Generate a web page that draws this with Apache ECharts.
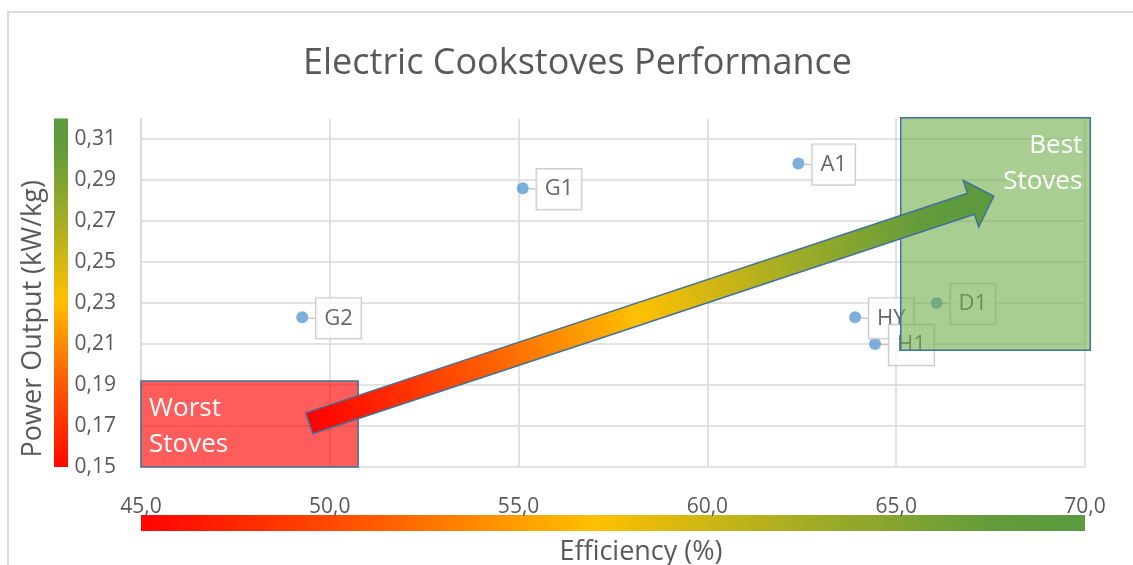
<!DOCTYPE html>
<html>
<head>
<meta charset="utf-8">
<script src="https://cdn.jsdelivr.net/npm/echarts@6/dist/echarts.min.js"></script>
<style>
  html, body { margin: 0; padding: 0; background: #fff; overflow: hidden; }
  #frame { position: absolute; left: 7px; top: 11px; width: 2000px; height: 2000px; border: 2px solid #dcdcdc; box-sizing: border-box; }
  #chart { position: absolute; left: 0; top: 0; width: 1133px; height: 565px; }
</style>
</head>
<body>
<div id="frame"></div>
<div id="chart"></div>
<script>
// ---- data ----
const categories = ['G2', 'G1', 'A1', 'HY', 'H1', 'D1'];
const efficiency = [49.27, 55.11, 62.41, 63.91, 64.44, 66.07];
const powerOutput = [0.223, 0.286, 0.298, 0.223, 0.210, 0.230];
const xTicks = [45, 50, 55, 60, 65, 70];
const yTicks = [0.15, 0.17, 0.19, 0.21, 0.23, 0.25, 0.27, 0.29, 0.31];
const zoneNames = ['Worst\nStoves', 'Best\nStoves'];
const zoneX0 = [45, 65.12];
const zoneX1 = [50.75, 70.14];
const zoneY0 = [0.15, 0.207];
const zoneY1 = [0.192, 0.3204];
const arrowFrom = [49.455, 0.1713];
const arrowTo = [67.585, 0.2821];

const FONT = '"Open Sans", "Noto Sans", sans-serif';
const GREY = '#595959';
const gradStops = [
  { offset: 0, color: '#ff0000' },
  { offset: 0.25, color: '#ff5a00' },
  { offset: 0.48, color: '#ffc000' },
  { offset: 0.7, color: '#a3ad25' },
  { offset: 0.9, color: '#619b3c' },
  { offset: 1, color: '#5b9a3e' }
];

const chart = echarts.init(document.getElementById('chart'), null, { renderer: 'canvas' });

const option = {
  backgroundColor: 'transparent',
  title: {
    text: 'Electric Cookstoves Performance',
    left: 298,
    top: 41,
    textStyle: { fontFamily: FONT, fontSize: 36, fontWeight: 'normal', color: GREY }
  },
  grid: { left: 141, right: 48, top: 118.5, bottom: 98, containLabel: false, outerBoundsMode: 'none' },
  xAxis: [
    {
      type: 'value', min: 45, max: 70, interval: 5,
      axisLine: { show: false }, axisTick: { show: false },
      axisLabel: { margin: 30, fontFamily: FONT, fontSize: 21, color: GREY, formatter: v => v.toFixed(1).replace('.', ',') },
      splitLine: { show: true, lineStyle: { color: '#d9d9d9', width: 1.5 } }
    },
    {
      type: 'value', min: 45, max: 70, position: 'bottom', offset: 56,
      axisLine: { show: true, lineStyle: { width: 16, cap: 'butt', color: new echarts.graphic.LinearGradient(0, 0, 1, 0, gradStops) } },
      axisTick: { show: false }, axisLabel: { show: false }, splitLine: { show: false },
      name: 'Efficiency (%)', nameLocation: 'middle', nameGap: 16,
      nameTextStyle: { fontFamily: FONT, fontSize: 27, color: GREY, padding: [0, 0, 0, 56] }
    }
  ],
  yAxis: [
    {
      type: 'value', min: 0.15, max: 0.32,
      axisLine: { show: true, lineStyle: { color: '#d9d9d9', width: 1.5 } },
      axisTick: { show: false, customValues: yTicks },
      axisLabel: { customValues: yTicks, margin: 25, fontFamily: FONT, fontSize: 21, color: GREY, formatter: v => v.toFixed(2).replace('.', ',') },
      splitLine: { show: true, lineStyle: { color: '#d9d9d9', width: 1.5 } }
    },
    {
      type: 'value', min: 0.15, max: 0.32, position: 'left', offset: 80,
      axisLine: { show: true, lineStyle: { width: 14, cap: 'butt', color: new echarts.graphic.LinearGradient(0, 1, 0, 0, gradStops) } },
      axisTick: { show: false }, axisLabel: { show: false }, splitLine: { show: false },
      name: 'Power Output (kW/kg)', nameLocation: 'middle', nameGap: 14,
      nameTextStyle: { fontFamily: FONT, fontSize: 27, color: GREY, padding: [0, 52, 0, 0] }
    }
  ],
  series: [
    {
      type: 'scatter',
      z: 2,
      symbolSize: 12,
      itemStyle: { color: '#5b9bd5' },
      data: categories.map((c, i) => ({ name: c, value: [efficiency[i], powerOutput[i]] })),
      label: {
        show: true, position: 'right', distance: 8, formatter: '{b}',
        backgroundColor: '#ffffff', borderColor: '#bfbfbf', borderWidth: 1.2,
        padding: [9, 8, 9, 8], fontFamily: FONT, fontSize: 22, lineHeight: 22, color: '#404040'
      },
      labelLine: { show: true, lineStyle: { color: '#bfbfbf', width: 1.2 } },
      labelLayout: { dy: 1 }
    },
    {
      type: 'custom',
      z: 5,
      clip: false,
      encode: { x: [0, 1], y: [2, 3] },
      data: zoneNames.map((n, i) => [zoneX0[i], zoneX1[i], zoneY0[i], zoneY1[i], i]),
      renderItem: function (params, api) {
        const i = api.value(4);
        const pA = api.coord([api.value(0), api.value(3)]);
        const pB = api.coord([api.value(1), api.value(2)]);
        const best = i === 1;
        return {
          type: 'group',
          children: [
            {
              type: 'rect',
              shape: { x: pA[0], y: pA[1], width: pB[0] - pA[0], height: pB[1] - pA[1] },
              style: { fill: best ? 'rgba(112,173,71,0.6)' : 'rgba(255,0,0,0.64)', stroke: '#41719c', lineWidth: 1.5 }
            },
            {
              type: 'text',
              style: {
                text: zoneNames[i],
                x: best ? pB[0] - 8 : pA[0] + 8,
                y: pA[1] + 10,
                align: best ? 'right' : 'left',
                verticalAlign: 'top',
                fill: '#ffffff',
                fontFamily: FONT, fontSize: 26, lineHeight: 36
              }
            }
          ]
        };
      }
    },
    {
      type: 'custom',
      z: 6,
      clip: false,
      encode: { x: [0, 2], y: [1, 3] },
      data: [[arrowFrom[0], arrowFrom[1], arrowTo[0], arrowTo[1]]],
      renderItem: function (params, api) {
        const a = api.coord([api.value(0), api.value(1)]);
        const b = api.coord([api.value(2), api.value(3)]);
        const dx = b[0] - a[0], dy = b[1] - a[1];
        const len = Math.sqrt(dx * dx + dy * dy);
        const ux = dx / len, uy = dy / len;
        const nx = -uy, ny = ux;
        const shaftHalf = 11, headHalf = 24.5, headLen = 24;
        const hb = [b[0] - ux * headLen, b[1] - uy * headLen];
        const pts = [
          [a[0] + nx * shaftHalf, a[1] + ny * shaftHalf],
          [hb[0] + nx * shaftHalf, hb[1] + ny * shaftHalf],
          [hb[0] + nx * headHalf, hb[1] + ny * headHalf],
          [b[0], b[1]],
          [hb[0] - nx * headHalf, hb[1] - ny * headHalf],
          [hb[0] - nx * shaftHalf, hb[1] - ny * shaftHalf],
          [a[0] - nx * shaftHalf, a[1] - ny * shaftHalf]
        ];
        return {
          type: 'polygon',
          shape: { points: pts },
          style: {
            fill: new echarts.graphic.LinearGradient(a[0], a[1], b[0], b[1], gradStops, true),
            stroke: '#41719c', lineWidth: 1.5
          }
        };
      }
    }
  ]
};
chart.setOption(option);
</script>
</body>
</html>
